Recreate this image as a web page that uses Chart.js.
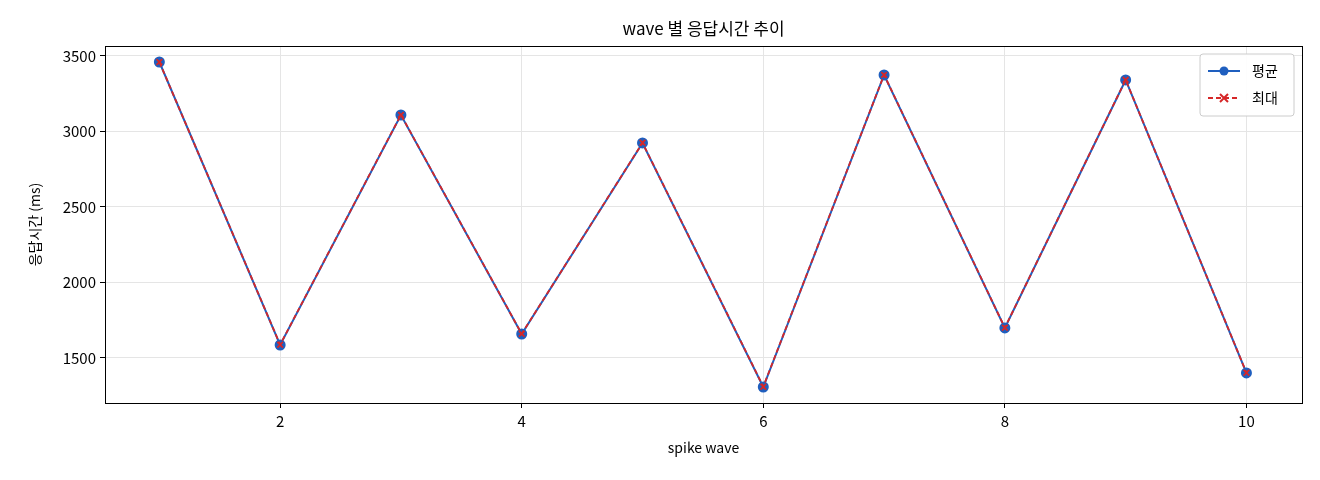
<!DOCTYPE html>
<html>
<head>
<meta charset="utf-8">
<script src="https://cdn.jsdelivr.net/npm/chart.js@4"></script>
<style>
  body { margin: 0; background: #fff; }
  #wrap { width: 1320px; height: 480px; }
</style>
</head>
<body>
<div id="wrap"><canvas id="myChart" width="1320" height="480"></canvas></div>
<script>
var waves = [1, 2, 3, 4, 5, 6, 7, 8, 9, 10];
var avgMs = [3460, 1586, 3109, 1659, 2924, 1308, 3374, 1699, 3341, 1401];
var maxMs = [3460, 1588, 3110, 1660, 2925, 1310, 3375, 1700, 3342, 1402];
var xTicks = [2, 4, 6, 8, 10];
var yTicks = [1500, 2000, 2500, 3000, 3500];

var FONT = "'Noto Sans CJK KR', 'Noto Sans', sans-serif";
var BLUE = '#1f5fbf';
var RED = '#d62728';

function pts(vals) {
  return waves.map(function (w, i) { return { x: w, y: vals[i] }; });
}

var frame = {
  id: 'frame',
  afterDraw: function (chart) {
    var ctx = chart.ctx, a = chart.chartArea;
    ctx.save();
    ctx.strokeStyle = '#000';
    ctx.lineWidth = 1;
    ctx.strokeRect(a.left + 0.5, a.top + 0.5, a.right - a.left, a.bottom - a.top);
    // title
    ctx.fillStyle = '#000';
    ctx.font = '17px ' + FONT;
    ctx.textAlign = 'center';
    ctx.textBaseline = 'middle';
    ctx.fillText('wave 별 응답시간 추이', (a.left + a.right) / 2, 29);
    // legend box
    var bx = 1200, by = 54, bw = 94, bh = 62;
    ctx.fillStyle = 'rgba(255,255,255,0.9)';
    ctx.strokeStyle = '#ccc';
    ctx.beginPath();
    ctx.roundRect(bx, by, bw, bh, 3);
    ctx.fill(); ctx.stroke();
    ctx.font = '14px ' + FONT;
    ctx.textAlign = 'left';
    // avg
    ctx.strokeStyle = BLUE; ctx.lineWidth = 2; ctx.setLineDash([]);
    ctx.beginPath(); ctx.moveTo(bx + 8, by + 17); ctx.lineTo(bx + 40, by + 17); ctx.stroke();
    ctx.fillStyle = BLUE;
    ctx.beginPath(); ctx.arc(bx + 24, by + 17, 4.5, 0, Math.PI * 2); ctx.fill();
    ctx.fillStyle = '#000';
    ctx.fillText(chart.data.datasets[0].label, bx + 52, by + 17);
    // max
    ctx.strokeStyle = RED; ctx.setLineDash([5, 3]);
    ctx.beginPath(); ctx.moveTo(bx + 8, by + 44); ctx.lineTo(bx + 40, by + 44); ctx.stroke();
    ctx.setLineDash([]);
    ctx.beginPath();
    ctx.moveTo(bx + 20, by + 40); ctx.lineTo(bx + 28, by + 48);
    ctx.moveTo(bx + 28, by + 40); ctx.lineTo(bx + 20, by + 48);
    ctx.stroke();
    ctx.fillStyle = '#000';
    ctx.fillText(chart.data.datasets[1].label, bx + 52, by + 44);
    ctx.restore();
  }
};

new Chart(document.getElementById('myChart'), {
  type: 'line',
  data: {
    datasets: [
      {
        label: '평균', data: pts(avgMs), borderColor: BLUE, backgroundColor: BLUE,
        borderWidth: 2, pointRadius: 4.5, pointStyle: 'circle', order: 2
      },
      {
        label: '최대', data: pts(maxMs), borderColor: RED, backgroundColor: RED,
        borderWidth: 1.8, borderDash: [5, 3], pointRadius: 4, pointStyle: 'crossRot',
        pointBorderWidth: 1.8, order: 1
      }
    ]
  },
  options: {
    responsive: false,
    animation: false,
    layout: { padding: { top: 46, right: 18, left: 22, bottom: 20 } },
    plugins: { legend: { display: false }, tooltip: { enabled: false } },
    scales: {
      x: {
        type: 'linear', min: 0.55, max: 10.46,
        afterBuildTicks: function (s) { s.ticks = xTicks.map(function (v) { return { value: v }; }); },
        afterFit: function (s) { s.height = 57; },
        grid: { color: '#e5e5e5', tickColor: '#000', tickLength: 5 },
        border: { color: '#000' },
        ticks: { color: '#000', font: { family: FONT, size: 15 }, padding: 4 },
        title: { display: true, text: 'spike wave', color: '#000', font: { family: FONT, size: 14 } }
      },
      y: {
        min: 1202, max: 3566,
        afterBuildTicks: function (s) { s.ticks = yTicks.map(function (v) { return { value: v }; }); },
        afterFit: function (s) { s.width = 83; },
        grid: { color: '#e5e5e5', tickColor: '#000', tickLength: 5 },
        border: { color: '#000' },
        ticks: { color: '#000', font: { family: FONT, size: 15 }, padding: 4,
          callback: function (v) { return String(v); } },
        title: { display: true, text: '응답시간 (ms)', color: '#000', font: { family: FONT, size: 14 } }
      }
    }
  },
  plugins: [frame]
});
</script>
</body>
</html>
